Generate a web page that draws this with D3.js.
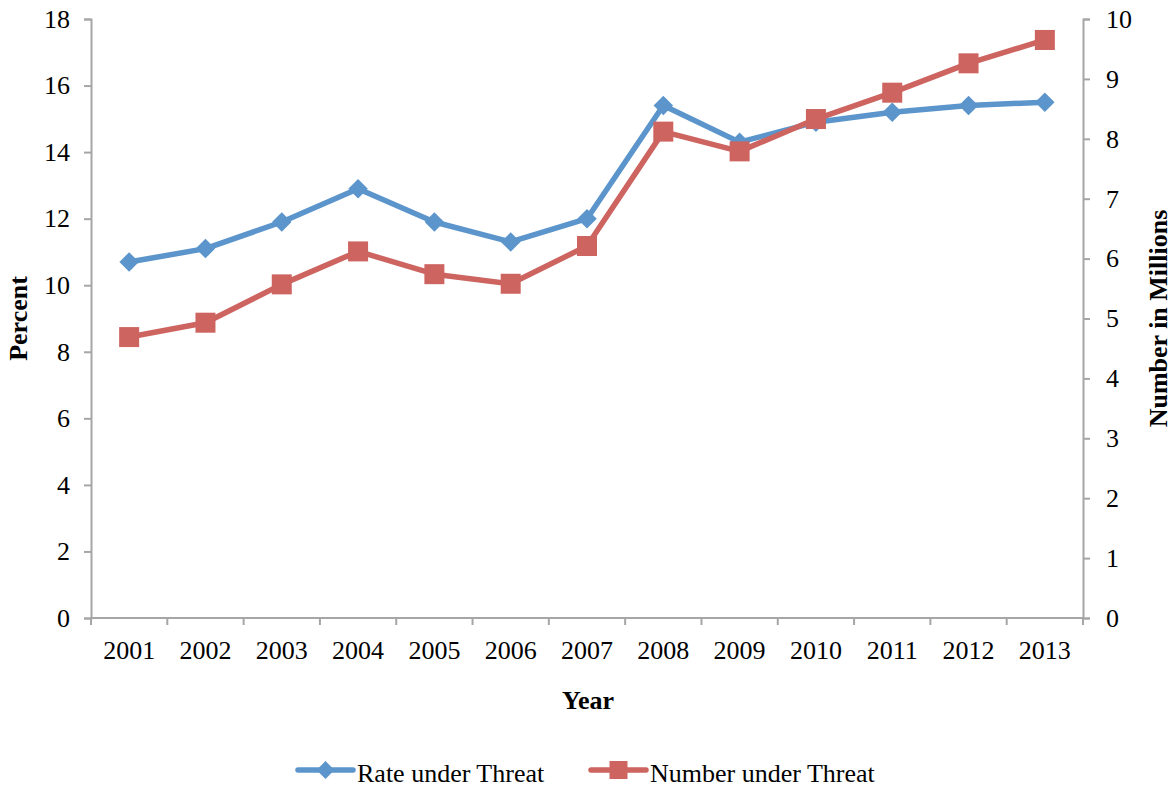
<!DOCTYPE html>
<html>
<head>
<meta charset="utf-8">
<script src="https://cdn.jsdelivr.net/npm/d3@7"></script>
<style>
  html, body { margin: 0; padding: 0; background: #fff; }
  svg { display: block; }
  text { font-family: "Liberation Serif", "Times New Roman", serif; fill: #000; }
</style>
</head>
<body>
<svg id="chart" width="1174" height="787"></svg>
<script>
// Years on the category axis
const years = ["2001","2002","2003","2004","2005","2006","2007","2008","2009","2010","2011","2012","2013"];
// Share of people under threat (percent, left axis)
const rateUnderThreat = [10.7, 11.1, 11.9, 12.9, 11.9, 11.3, 12.0, 15.4, 14.3, 14.9, 15.2, 15.4, 15.5];
// Number of people under threat (millions, right axis)
const numberUnderThreat = [4.69, 4.93, 5.57, 6.12, 5.74, 5.58, 6.21, 8.12, 7.79, 8.33, 8.77, 9.26, 9.65];
// Axis tick values
const percentTicks = [0, 2, 4, 6, 8, 10, 12, 14, 16, 18];
const millionTicks = [0, 1, 2, 3, 4, 5, 6, 7, 8, 9, 10];

const blue = "#5b95cb";
const red = "#cd6460";
const axisGrey = "#a6a6a6";
const fontSize = "26px";

const svg = d3.select("#chart");
const m = { left: 91, right: 1083, top: 19, bottom: 618 };

const x = d3.scaleBand().domain(years).range([m.left, m.right]).padding(0);
const yL = d3.scaleLinear().domain([0, 18]).range([m.bottom, m.top]);
const yR = d3.scaleLinear().domain([0, 10]).range([m.bottom, m.top]);
const cx = d => x(d) + x.bandwidth() / 2;

// Left axis
const gL = svg.append("g").attr("transform", `translate(${m.left},0)`)
  .call(d3.axisLeft(yL).tickValues(percentTicks).tickSize(7).tickPadding(14));
// Right axis
const gR = svg.append("g").attr("transform", `translate(${m.right},0)`)
  .call(d3.axisRight(yR).tickValues(millionTicks).tickSize(7).tickPadding(16));
// Bottom axis: ticks on band boundaries
const gB = svg.append("g").attr("transform", `translate(0,${m.bottom})`)
  .call(d3.axisBottom(x).tickSize(0).tickPadding(23));
gB.selectAll(".boundary").data(d3.range(years.length + 1)).enter().append("line")
  .attr("class", "boundary")
  .attr("x1", i => m.left + i * x.step()).attr("x2", i => m.left + i * x.step())
  .attr("y1", 0).attr("y2", 7)
  .attr("stroke", axisGrey).attr("stroke-width", 2);

[gL, gR, gB].forEach(g => {
  g.select(".domain").attr("stroke", axisGrey).attr("stroke-width", 2);
  g.selectAll(".tick line").attr("stroke", axisGrey).attr("stroke-width", 2);
  g.selectAll(".tick text")
    .style("font-family", '"Liberation Serif", serif')
    .style("font-size", fontSize).attr("fill", "#000");
});
gB.select(".domain").attr("d", `M${m.left},0H${m.right}`);

// Axis titles
svg.append("text")
  .attr("transform", `translate(27,${(m.top + m.bottom) / 2}) rotate(-90)`)
  .attr("text-anchor", "middle")
  .style("font-size", fontSize).style("font-weight", "bold")
  .text("Percent");
svg.append("text")
  .attr("transform", `translate(1167,${(m.top + m.bottom) / 2}) rotate(-90)`)
  .attr("text-anchor", "middle")
  .style("font-size", fontSize).style("font-weight", "bold")
  .text("Number in Millions");
svg.append("text")
  .attr("x", 588).attr("y", 709)
  .attr("text-anchor", "middle")
  .style("font-size", fontSize).style("font-weight", "bold")
  .text("Year");

// Series
const lineL = d3.line().x((d, i) => cx(years[i])).y(d => yL(d));
const lineR = d3.line().x((d, i) => cx(years[i])).y(d => yR(d));

svg.append("path").datum(rateUnderThreat)
  .attr("d", lineL).attr("fill", "none")
  .attr("stroke", blue).attr("stroke-width", 5.5).attr("stroke-linejoin", "round");
svg.selectAll(".rate-pt").data(rateUnderThreat).enter().append("path")
  .attr("class", "rate-pt")
  .attr("transform", (d, i) => `translate(${cx(years[i])},${yL(d)}) rotate(45)`)
  .attr("d", d3.symbol().type(d3.symbolSquare).size(190))
  .attr("fill", blue);

svg.append("path").datum(numberUnderThreat)
  .attr("d", lineR).attr("fill", "none")
  .attr("stroke", red).attr("stroke-width", 5.5).attr("stroke-linejoin", "round");
const sq = 20;
svg.selectAll(".num-pt").data(numberUnderThreat).enter().append("rect")
  .attr("class", "num-pt")
  .attr("x", (d, i) => cx(years[i]) - sq / 2)
  .attr("y", d => yR(d) - sq / 2)
  .attr("width", sq).attr("height", sq)
  .attr("fill", red);

// Legend
const legend = [
  { label: "Rate under Threat", color: blue, x0: 298, shape: "diamond" },
  { label: "Number under Threat", color: red, x0: 591, shape: "square" }
];
const ly = 770;
legend.forEach(l => {
  const g = svg.append("g");
  g.append("line").attr("x1", l.x0).attr("x2", l.x0 + 55)
    .attr("y1", ly).attr("y2", ly)
    .attr("stroke", l.color).attr("stroke-width", 5.5).attr("stroke-linecap", "round");
  if (l.shape === "diamond") {
    g.append("path")
      .attr("transform", `translate(${l.x0 + 27.5},${ly}) rotate(45)`)
      .attr("d", d3.symbol().type(d3.symbolSquare).size(160))
      .attr("fill", l.color);
  } else {
    g.append("rect").attr("x", l.x0 + 27.5 - 9).attr("y", ly - 9)
      .attr("width", 18).attr("height", 18).attr("fill", l.color);
  }
  g.append("text").attr("x", l.x0 + 59).attr("y", ly + 12)
    .style("font-size", fontSize).text(l.label);
});
</script>
</body>
</html>
